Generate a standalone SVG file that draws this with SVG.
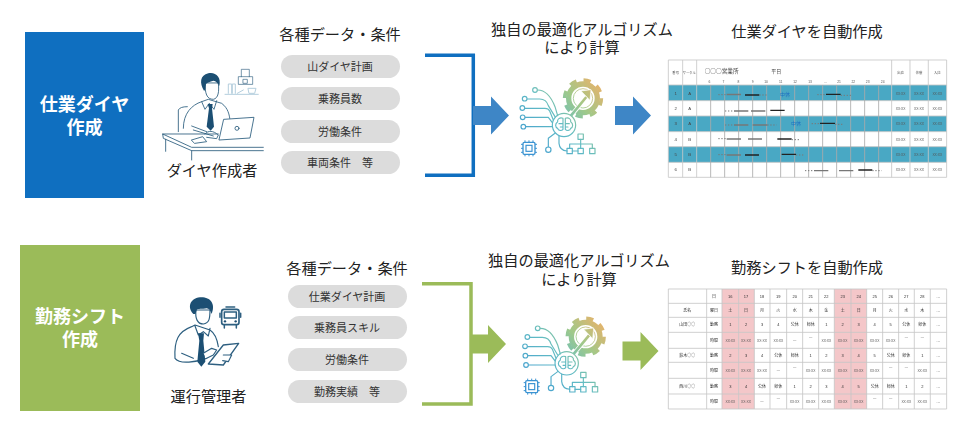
<svg xmlns="http://www.w3.org/2000/svg" width="975" height="446" viewBox="0 0 975 446">
<style>
text{font-family:"Liberation Sans","Noto Sans CJK JP",sans-serif;fill:#222;text-anchor:middle}
text.j{font-family:"Noto Sans CJK JP",sans-serif}
.h{font-size:15.2px}.b{font-size:18px;font-weight:700;fill:#fff}.p{font-size:11px;fill:#333}.pill{fill:#dcdcdc}
.ln{fill:none;stroke:#2d5f80;stroke-width:2.6;stroke-linejoin:round;stroke-linecap:round}
.lt{fill:none;stroke:#b4cedd;stroke-width:3;stroke-linecap:round}
.dk{fill:#1c4f73}
.g{stroke:#c6c6c6;stroke-width:2.5;fill:none}
.t{font-size:13px;fill:#444}.s{font-size:10px;fill:#555}.m{font-size:12px;fill:#333}
.bar{stroke-width:4;fill:none}.k{stroke:#222}.y{stroke:#777}.d{stroke:#777;stroke-width:3;stroke-dasharray:4 5;fill:none}
.c{fill:none;stroke:url(#ig);stroke-width:3.500;stroke-linecap:round;stroke-linejoin:round}
</style>
<defs>
<linearGradient id="ig" gradientUnits="userSpaceOnUse" x1="50" y1="230" x2="270" y2="30">
<stop offset="0" stop-color="#3f9ad2"/><stop offset=".45" stop-color="#62bcc4"/><stop offset=".72" stop-color="#9fc98a"/><stop offset="1" stop-color="#e3b46c"/>
</linearGradient>
<filter id="bl" x="-2%" y="-2%" width="104%" height="104%"><feGaussianBlur stdDeviation="1.3"/></filter>
<filter id="bs" x="-5%" y="-5%" width="110%" height="110%"><feGaussianBlur stdDeviation="0.8"/></filter>
<g id="ai" transform="scale(.3333)">
<circle cx="222" cy="70" r="55" fill="none" stroke="url(#ig)" stroke-width="11" stroke-dasharray="21.600 21.600"/>
<circle cx="222" cy="70" r="43" fill="none" stroke="url(#ig)" stroke-width="16"/>
<circle cx="222" cy="70" r="29" fill="none" stroke="url(#ig)" stroke-width="2.500"/>
<path d="M186 122L240 58" fill="none" stroke="#fff" stroke-width="13"/>
<path d="M186 122L232 66" fill="none" stroke="url(#ig)" stroke-width="8"/>
<path d="M216 48L246 44L243 76Z" fill="url(#ig)" stroke="#fff" stroke-width="2"/>
<circle cx="165" cy="150" r="35" fill="#fff"/><circle class="c" cx="165" cy="150" r="35"/>
<path class="c" d="M162 130c-10-4-18 3-16 10c-9 6-7 18 0 20c2 8 12 8 16 3zM169 130c10-4 18 3 16 10c9 6 7 18 0 20c-2 8-12 8-16 3zM150 146h12M154 156h8M169 146h12M169 156h8"/>
<path class="c" d="M146 122L138 95C128 70 110 45 86 45"/><circle class="c" cx="78" cy="45" r="7"/>
<path class="c" d="M138 125L118 92Q112 72 92 72H55"/><circle class="c" cx="47" cy="71" r="7"/>
<path class="c" d="M133 135L122 108Q118 100 108 100H48"/><circle class="c" cx="40" cy="99" r="7"/>
<path class="c" d="M130 143L118 127H49"/><circle class="c" cx="41" cy="127" r="7"/>
<path class="c" d="M130 155H51"/><circle class="c" cx="43" cy="155" r="7"/>
<path class="c" d="M138 175L118 190V215"/><circle class="c" cx="118" cy="224" r="8"/>
<path class="c" d="M150 183V205Q152 226 174 228M190 228H207M215 193V220M182 220V207H250V220"/>
<rect class="c" x="207" y="177" width="16" height="16"/><rect class="c" x="174" y="220" width="16" height="16"/><rect class="c" x="207" y="220" width="16" height="16"/><rect class="c" x="242" y="220" width="16" height="16"/>
<path d="M48 196v48M60 196v48M72 196v48M36 208h48M36 220h48M36 232h48" stroke="#3a93d2" stroke-width="3"/>
<rect x="42" y="202" width="36" height="36" rx="4" fill="#fff" stroke="#3a93d2" stroke-width="4"/><rect x="51" y="211" width="18" height="18" fill="#fff" stroke="#3a93d2" stroke-width="3.500"/>
</g>
<polygon id="arr" points="0,-9.500 18,-9.500 18,-19 36,0 18,19 18,9.500 0,9.500"/>
</defs>
<rect width="975" height="446" fill="#fff"/>

<g id="connectors">
<path d="M425 55.300H473.300V175.300H425" fill="none" stroke="#0f6fc0" stroke-width="3.500"/>
<path d="M422 283.700H471V404H422" fill="none" stroke="#9bbb59" stroke-width="3.500"/>
<use href="#arr" x="473" y="115.500" fill="#3e86c6"/>
<use href="#arr" x="615" y="115.500" fill="#3e86c6"/>
<use href="#arr" x="470" y="344" fill="#9bbb59"/>
<use href="#arr" x="622.500" y="351" fill="#9bbb59"/>
</g>

<g id="title1"><rect x="25" y="32" width="119" height="166" fill="#0f6fc0"/><text class="b" x="84.500" y="111">仕業ダイヤ</text><text class="b" x="84.500" y="134">作成</text></g>
<g id="title2"><rect x="20" y="245" width="120" height="166" fill="#9bbb59"/><text class="b" x="80" y="323">勤務シフト</text><text class="b" x="80" y="346">作成</text></g>

<g id="person1">
<g transform="translate(150 60) scale(.3333)" filter="url(#bs)">
<path class="lt" d="M225 103H325M235 100V72H245V100M247 100V72H256V100M262 100L280 90M295 85H318L314 100H298Z"/>
<path class="ln" d="M265 72V50H308V72ZM274 50V28H298V50M280 58h12v12h-12z" style="opacity:.75"/>
<path class="ln" d="M85 215V150Q90 140 112 140"/>
<path class="ln" d="M100 205C100 160 125 135 155 125L175 118L215 130C235 145 238 165 240 180"/>
<path class="ln" d="M155 125L165 148L178 130L192 148L200 122M125 198L170 215M130 210L190 228"/>
<path class="dk" d="M173 132H188L186 145L192 200L182 212L170 200L177 145Z"/>
<path class="ln" style="fill:#fff" d="M165 70C165 100 170 118 190 118C205 115 208 95 205 70Z"/>
<path class="dk" d="M162 92C148 70 150 45 175 40C195 35 215 50 208 78C204 70 198 62 190 62C180 66 172 66 168 72L166 90Z"/>
<path class="ln" style="fill:#fff" d="M222 178L312 172L300 234L208 240Z"/>
<circle class="ln" cx="261" cy="205" r="6"/>
<path class="ln" d="M165 222C175 210 190 212 205 225L200 236L170 232M125 240L158 230L170 245L135 250Z"/>
<path class="ln" d="M205 222H38L40 235L125 272H340M38 222L125 262H340M47 238V274M125 272V300"/>
</g>
</g>
<text class="h" x="212" y="176">ダイヤ作成者</text>

<g id="person2">
<g transform="translate(160 290) scale(.3333)" filter="url(#bs)">
<path class="ln" style="stroke-width:3.500" d="M45 205C42 150 55 125 95 110L105 105L150 120C165 130 172 150 175 170M45 205C60 225 110 215 140 205M65 190L100 205M105 108L115 135L130 125L145 138L150 115"/>
<path class="dk" d="M114 130H132L130 152L136 215L124 230L112 215L118 152Z"/>
<path class="ln" style="stroke-width:3.500;fill:#fff" d="M108 60C105 85 112 102 130 102C148 100 150 85 150 60Z"/>
<path class="dk" d="M100 72C82 55 88 25 120 22C150 20 168 40 155 72C152 62 146 55 140 55C128 58 112 55 110 60L106 72Z"/>
<path class="ln" style="stroke-width:4;fill:#fff" d="M145 222L190 165L236 160L190 225Z"/>
<path class="ln" style="stroke-width:3.500;fill:#fff" d="M130 190L155 175L170 180L160 195L140 205M190 195L215 195L205 215L188 212"/>
<rect class="ln" style="stroke-width:5" x="185" y="58" width="52" height="46" rx="7"/>
<path class="ln" style="stroke-width:4.500" d="M193 66H229V84H193ZM198 51H224M193 104V114M229 104V114M180 70V82M242 70V82"/>
<circle class="dk" cx="195" cy="94" r="3.500"/><circle class="dk" cx="227" cy="94" r="3.500"/>
</g>
</g>
<text class="h" x="208.500" y="402">運行管理者</text>

<g id="inputs1">
<text class="h" x="340" y="40">各種データ・条件</text>
<rect class="pill" x="281" y="55" width="119" height="23" rx="11.500"/><text class="p" x="340" y="71">山ダイヤ計画</text>
<rect class="pill" x="281" y="87" width="119" height="23" rx="11.500"/><text class="p" x="340" y="103">乗務員数</text>
<rect class="pill" x="281" y="120" width="119" height="23" rx="11.500"/><text class="p" x="340" y="136">労働条件</text>
<rect class="pill" x="281" y="151" width="119" height="23" rx="11.500"/><text class="p" x="340" y="167">車両条件　等</text>
</g>
<g id="inputs2">
<text class="h" x="347" y="274">各種データ・条件</text>
<rect class="pill" x="288" y="285" width="119" height="23" rx="11.500"/><text class="p" x="347" y="301">仕業ダイヤ計画</text>
<rect class="pill" x="288" y="316" width="119" height="23" rx="11.500"/><text class="p" x="347" y="332">乗務員スキル</text>
<rect class="pill" x="288" y="348" width="119" height="23" rx="11.500"/><text class="p" x="347" y="364">労働条件</text>
<rect class="pill" x="288" y="380" width="119" height="23" rx="11.500"/><text class="p" x="347" y="396">勤務実績　等</text>
</g>

<g id="algo1">
<text class="h" x="582" y="35">独自の最適化アルゴリズム</text><text class="h" x="582" y="53">により計算</text>
<use href="#ai" x="509" y="75"/>
</g>
<g id="algo2">
<text class="h" x="579" y="266">独自の最適化アルゴリズム</text><text class="h" x="579" y="285">により計算</text>
<use href="#ai" x="511.700" y="313.300"/>
</g>

<g id="output1">
<text class="h" x="807" y="37">仕業ダイヤを自動作成</text>
<g transform="translate(660 50) scale(.3333)" filter="url(#bl)">
<rect x="25" y="30" width="835" height="352" fill="#fff"/>
<rect x="25" y="105" width="835" height="47" fill="#4aa8c4"/><rect x="25" y="198" width="835" height="47" fill="#4aa8c4"/><rect x="25" y="290" width="835" height="47" fill="#4aa8c4"/>
<path class="g" d="M25 30H860V382H25ZM25 105H860M25 152H860M25 198H860M25 245H860M25 290H860M25 337H860M68 30V382M110 30V382M695 30V382M750 30V382M805 30V382"/>
<path class="g" style="stroke:#aaa" d="M152 105V382M194 105V382M236 105V382M278 105V382M320 105V382M362 105V382M404 105V382M446 105V382M488 105V382M530 105V382M572 105V382M614 105V382M656 105V382"/>
<g>
<path class="bar y" d="M200 133.500H243M222 183H265M273 183H316M222 225H265M278 225H322M200 267H243M264 267H306M200 315H243M462 362H505M537 362H580"/>
<path class="bar k" d="M255 135H298M331 181H374M498 133H542M480 220H525M352 267H395M255 315H297M365 313H408M595 360H637"/>
<path class="d" d="M175 134H200M298 135H325M472 134H498M542 136H575M195 183H222M195 225H222M322 225H350M455 221H480M525 223H552M175 266H200M395 269H420M175 314H200M408 315H435M435 362H462M637 362H665"/>
</g>
<text x="375" y="137" style="font-size:15px;fill:#1f6fc0">中休</text><text x="408" y="226" style="font-size:15px;fill:#1f6fc0">中休</text>
<text class="j" x="185" y="70" style="font-size:17px;fill:#444">○○○営業所</text><text x="349" y="69" style="font-size:15px;fill:#444">平日</text>
<g><text class="s" x="47" y="72">番号</text><text class="s" x="88" y="72">サークル</text><text class="s" x="722" y="72">出庫</text><text class="s" x="777" y="72">休憩</text><text class="s" x="832" y="72">入庫</text>
<text class="s" x="148" y="100">6</text><text class="s" x="190" y="100">7</text><text class="s" x="235" y="100">8</text><text class="s" x="278" y="100">9</text><text class="s" x="318" y="100">10</text><text class="s" x="362" y="100">11</text><text class="s" x="405" y="100">12</text><text class="s" x="450" y="100">13</text><text class="s" x="497" y="100">…</text><text class="s" x="537" y="100">21</text><text class="s" x="580" y="100">22</text><text class="s" x="623" y="100">23</text><text class="s" x="668" y="100">24</text></g>
<text class="t" x="47" y="134">1</text><text class="t" x="89" y="134">A</text><text class="s" x="722" y="134">XX:XX</text><text class="s" x="777" y="134">XX:XX</text><text class="s" x="832" y="134">XX:XX</text>
<text class="t" x="47" y="180">2</text><text class="t" x="89" y="180">A</text><text class="s" x="722" y="180">XX:XX</text><text class="s" x="777" y="180">XX:XX</text><text class="s" x="832" y="180">XX:XX</text>
<text class="t" x="47" y="226">3</text><text class="t" x="89" y="226">A</text><text class="s" x="722" y="226">XX:XX</text><text class="s" x="777" y="226">XX:XX</text><text class="s" x="832" y="226">XX:XX</text>
<text class="t" x="47" y="272">4</text><text class="t" x="89" y="272">B</text><text class="s" x="722" y="272">XX:XX</text><text class="s" x="777" y="272">XX:XX</text><text class="s" x="832" y="272">XX:XX</text>
<text class="t" x="47" y="318">5</text><text class="t" x="89" y="318">B</text><text class="s" x="722" y="318">XX:XX</text><text class="s" x="777" y="318">XX:XX</text><text class="s" x="832" y="318">XX:XX</text>
<text class="t" x="47" y="364">6</text><text class="t" x="89" y="364">B</text><text class="s" x="722" y="364">XX:XX</text><text class="s" x="777" y="364">XX:XX</text><text class="s" x="832" y="364">XX:XX</text>
</g>
</g>

<g id="output2">
<text class="h" x="807" y="273">勤務シフトを自動作成</text>
<g transform="translate(660 285) scale(.3333)" filter="url(#bl)">
<rect x="186" y="12" width="97" height="360" fill="#f4c7c9"/><rect x="523" y="12" width="97" height="360" fill="#f4c7c9"/>
<path class="g" d="M25 12H860V372H25ZM25 55H860M25 97H860M25 142H860M25 190H860M25 232H860M25 280H860M25 327H860M140 12V372M186 12V372M236 12V372M283 12V372M330 12V372M380 12V372M428 12V372M476 12V372M523 12V372M573 12V372M620 12V372M668 12V372M716 12V372M763 12V372M811 12V372"/>
<text class="m" x="162" y="38">日</text><text class="m" x="211" y="38">16</text><text class="m" x="258" y="38">17</text><text class="m" x="306" y="38">18</text><text class="m" x="355" y="38">19</text><text class="m" x="404" y="38">20</text><text class="m" x="452" y="38">21</text><text class="m" x="499" y="38">22</text><text class="m" x="548" y="38">23</text><text class="m" x="596" y="38">24</text><text class="m" x="644" y="38">25</text><text class="m" x="692" y="38">26</text><text class="m" x="739" y="38">27</text><text class="m" x="787" y="38">28</text><text class="m" x="835" y="38">…</text>
<text class="m" x="82" y="81">氏名</text><text class="m" x="162" y="81">曜日</text><text class="m" x="211" y="81">土</text><text class="m" x="258" y="81">日</text><text class="m" x="306" y="81">月</text><text class="m" x="355" y="81">火</text><text class="m" x="404" y="81">水</text><text class="m" x="452" y="81">木</text><text class="m" x="499" y="81">金</text><text class="m" x="548" y="81">土</text><text class="m" x="596" y="81">日</text><text class="m" x="644" y="81">月</text><text class="m" x="692" y="81">火</text><text class="m" x="739" y="81">水</text><text class="m" x="787" y="81">木</text><text class="m" x="835" y="81">…</text>
<text class="m j" x="82" y="124">山田○○</text><text class="m" x="162" y="124">勤務</text><text class="m" x="211" y="124">1</text><text class="m" x="258" y="124">2</text><text class="m" x="306" y="124">3</text><text class="m" x="355" y="124">4</text><text class="m" x="404" y="124">公休</text><text class="m" x="452" y="124">帰休</text><text class="m" x="499" y="124">1</text><text class="m" x="548" y="124">2</text><text class="m" x="596" y="124">3</text><text class="m" x="644" y="124">4</text><text class="m" x="692" y="124">5</text><text class="m" x="739" y="124">公休</text><text class="m" x="787" y="124">帰休</text><text class="m" x="835" y="124">…</text>
<text class="m" x="162" y="170">時間</text><text class="s" x="211" y="170">XX:XX</text><text class="s" x="258" y="170">XX:XX</text><text class="s" x="306" y="170">XX:XX</text><text class="s" x="355" y="170">XX:XX</text><text class="s" x="404" y="168">—</text><text class="s" x="452" y="160">—</text><text class="s" x="499" y="170">XX:XX</text><text class="s" x="548" y="170">XX:XX</text><text class="s" x="596" y="170">XX:XX</text><text class="s" x="644" y="170">XX:XX</text><text class="s" x="692" y="170">XX:XX</text><text class="s" x="739" y="160">—</text><text class="s" x="787" y="160">—</text><text class="m" x="835" y="170">…</text>
<text class="m j" x="82" y="216">鈴木○○</text><text class="m" x="162" y="216">勤務</text><text class="m" x="211" y="216">2</text><text class="m" x="258" y="216">3</text><text class="m" x="306" y="216">4</text><text class="m" x="355" y="216">公休</text><text class="m" x="404" y="216">帰休</text><text class="m" x="452" y="216">1</text><text class="m" x="499" y="216">2</text><text class="m" x="548" y="216">3</text><text class="m" x="596" y="216">4</text><text class="m" x="644" y="216">5</text><text class="m" x="692" y="216">公休</text><text class="m" x="739" y="216">帰休</text><text class="m" x="787" y="216">1</text><text class="m" x="835" y="216">…</text>
<text class="m" x="162" y="260">時間</text><text class="s" x="211" y="260">XX:XX</text><text class="s" x="258" y="260">XX:XX</text><text class="s" x="306" y="260">XX:XX</text><text class="s" x="355" y="258">—</text><text class="s" x="404" y="250">—</text><text class="s" x="452" y="260">XX:XX</text><text class="s" x="499" y="260">XX:XX</text><text class="s" x="548" y="260">XX:XX</text><text class="s" x="596" y="260">XX:XX</text><text class="s" x="644" y="260">XX:XX</text><text class="s" x="692" y="250">—</text><text class="s" x="739" y="250">—</text><text class="s" x="787" y="260">XX:XX</text><text class="m" x="835" y="260">…</text>
<text class="m j" x="82" y="308">西川○○</text><text class="m" x="162" y="308">勤務</text><text class="m" x="211" y="308">3</text><text class="m" x="258" y="308">4</text><text class="m" x="306" y="308">公休</text><text class="m" x="355" y="308">帰休</text><text class="m" x="404" y="308">1</text><text class="m" x="452" y="308">2</text><text class="m" x="499" y="308">3</text><text class="m" x="548" y="308">4</text><text class="m" x="596" y="308">5</text><text class="m" x="644" y="308">公休</text><text class="m" x="692" y="308">帰休</text><text class="m" x="739" y="308">1</text><text class="m" x="787" y="308">2</text><text class="m" x="835" y="308">…</text>
<text class="m" x="162" y="353">時間</text><text class="s" x="211" y="353">XX:XX</text><text class="s" x="258" y="353">XX:XX</text><text class="s" x="306" y="351">—</text><text class="s" x="355" y="343">—</text><text class="s" x="404" y="353">XX:XX</text><text class="s" x="452" y="353">XX:XX</text><text class="s" x="499" y="353">XX:XX</text><text class="s" x="548" y="353">XX:XX</text><text class="s" x="596" y="353">XX:XX</text><text class="s" x="644" y="343">—</text><text class="s" x="692" y="343">—</text><text class="s" x="739" y="353">XX:XX</text><text class="s" x="787" y="353">XX:XX</text><text class="m" x="835" y="353">…</text>
</g>
</g>
</svg>
